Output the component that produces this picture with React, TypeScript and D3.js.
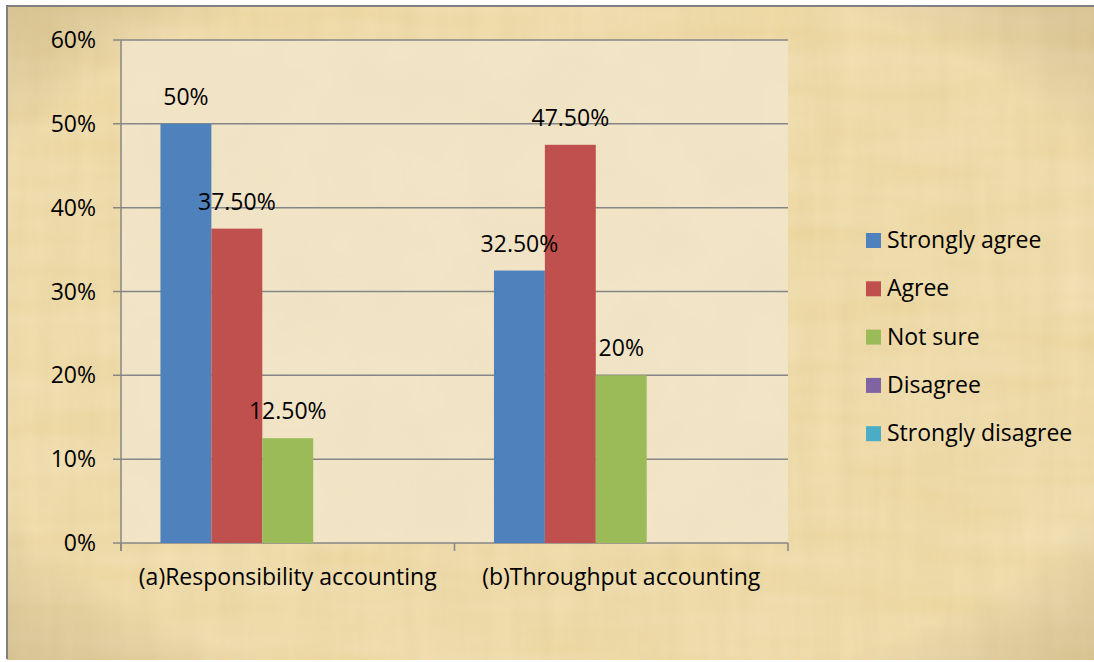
import React, { useEffect, useRef } from "react";
import * as d3 from "d3";

const categories = ["(a)Responsibility accounting", "(b)Throughput accounting"];
const seriesNames = ["Strongly agree", "Agree", "Not sure", "Disagree", "Strongly disagree"];
const seriesColors = ["#4F81BD", "#C0504D", "#9BBB59", "#8064A2", "#4BACC6"];
const stronglyAgree = [50, 32.5];
const agree = [37.5, 47.5];
const notSure = [12.5, 20];
const disagree = [0, 0];
const stronglyDisagree = [0, 0];
const valueLabels = [["50%", "32.50%"], ["37.50%", "47.50%"], ["12.50%", "20%"], [null, null], [null, null]];
const yTicks = [0, 10, 20, 30, 40, 50, 60];

const W = 1094, H = 662;
const plot = { left: 121, right: 788, top: 40, bottom: 543 };
const FONT = "'Open Sans', 'Noto Sans', sans-serif";
const FS = 23;

export default function App() {
  const ref = useRef<SVGSVGElement>(null);
  useEffect(() => {
    const svg = d3.select(ref.current);
    svg.selectAll("*").remove();
    const series = [stronglyAgree, agree, notSure, disagree, stronglyDisagree];

    const defs = svg.append("defs");
    const f1 = defs.append("filter").attr("id", "paper").attr("x", 0).attr("y", 0).attr("width", "100%").attr("height", "100%");
    f1.append("feTurbulence").attr("type", "fractalNoise").attr("baseFrequency", "0.05 0.006").attr("numOctaves", 3).attr("seed", 4).attr("result", "n");
    f1.append("feColorMatrix").attr("in", "n").attr("type", "matrix")
      .attr("values", "0 0 0 0 0.62  0 0 0 0 0.48  0 0 0 0 0.2  0 0 0 0.28 0").attr("result", "c");
    f1.append("feComposite").attr("in", "c").attr("in2", "SourceGraphic").attr("operator", "in");
    const f3 = defs.append("filter").attr("id", "paperh").attr("x", 0).attr("y", 0).attr("width", "100%").attr("height", "100%");
    f3.append("feTurbulence").attr("type", "fractalNoise").attr("baseFrequency", "0.006 0.04").attr("numOctaves", 2).attr("seed", 9).attr("result", "n");
    f3.append("feColorMatrix").attr("in", "n").attr("type", "matrix")
      .attr("values", "0 0 0 0 1  0 0 0 0 0.95  0 0 0 0 0.85  0 0 0 0.3 0").attr("result", "c");
    f3.append("feComposite").attr("in", "c").attr("in2", "SourceGraphic").attr("operator", "in");
    const f2 = defs.append("filter").attr("id", "paper2").attr("x", 0).attr("y", 0).attr("width", "100%").attr("height", "100%");
    f2.append("feTurbulence").attr("type", "fractalNoise").attr("baseFrequency", "0.015").attr("numOctaves", 3).attr("seed", 7).attr("result", "n");
    f2.append("feColorMatrix").attr("in", "n").attr("type", "matrix")
      .attr("values", "0 0 0 0 0.75  0 0 0 0 0.65  0 0 0 0 0.45  0 0 0 0.22 0").attr("result", "c");
    f2.append("feComposite").attr("in", "c").attr("in2", "SourceGraphic").attr("operator", "in");
    const rg = defs.append("radialGradient").attr("id", "vign").attr("cx", "50%").attr("cy", "50%").attr("r", "75%");
    rg.append("stop").attr("offset", "75%").attr("stop-color", "#000").attr("stop-opacity", 0);
    rg.append("stop").attr("offset", "100%").attr("stop-color", "#6a4a10").attr("stop-opacity", 0.18);

    // Background
    svg.append("rect").attr("x", 0).attr("y", 0).attr("width", W).attr("height", H).attr("fill", "#ffffff");
    const bg = () => svg.append("rect").attr("x", 7).attr("y", 6).attr("width", W - 7).attr("height", H - 8);
    bg().attr("fill", "#EFD9A2");
    bg().attr("fill", "#EFD9A2").attr("filter", "url(#paper)");
    bg().attr("fill", "#EFD9A2").attr("filter", "url(#paperh)");
    bg().attr("fill", "url(#vign)");
    svg.append("line").attr("x1", 7).attr("x2", 7).attr("y1", 5).attr("y2", H - 3).attr("stroke", "#808080").attr("stroke-width", 2);
    svg.append("line").attr("x1", 6).attr("x2", W).attr("y1", 6).attr("y2", 6).attr("stroke", "#808080").attr("stroke-width", 2);

    // Plot area
    svg.append("rect").attr("x", plot.left).attr("y", plot.top).attr("width", plot.right - plot.left).attr("height", plot.bottom - plot.top).attr("fill", "#F3E6C8");
    svg.append("rect").attr("x", plot.left).attr("y", plot.top).attr("width", plot.right - plot.left).attr("height", plot.bottom - plot.top).attr("fill", "#F3E6C8").attr("filter", "url(#paper2)");

    const y = d3.scaleLinear().domain([0, 60]).range([plot.bottom, plot.top]);
    const x0 = d3.scaleBand().domain(categories).range([plot.left, plot.right]).paddingInner(0).paddingOuter(0);
    const x1 = d3.scaleBand().domain(seriesNames).range([0, x0.bandwidth()]).paddingOuter(0.775).paddingInner(0);

    // gridlines
    svg.append("g").selectAll("line").data(yTicks).join("line")
      .attr("x1", plot.left - 8).attr("x2", plot.right)
      .attr("y1", d => y(d)).attr("y2", d => y(d))
      .attr("stroke", "#868686").attr("stroke-width", 1.5);
    // y-axis line
    svg.append("line").attr("x1", plot.left).attr("x2", plot.left).attr("y1", plot.top).attr("y2", plot.bottom + 8)
      .attr("stroke", "#868686").attr("stroke-width", 1.5);
    // x tick marks
    const xt = [plot.left, ...categories.map(c => (x0(c) as number) + x0.bandwidth())];
    svg.append("g").selectAll("line").data(xt).join("line")
      .attr("x1", d => d).attr("x2", d => d).attr("y1", plot.bottom).attr("y2", plot.bottom + 8)
      .attr("stroke", "#868686").attr("stroke-width", 1.5);

    // y labels
    svg.append("g").selectAll("text").data(yTicks).join("text")
      .attr("x", 96).attr("y", d => y(d)).attr("dy", "0.35em").attr("text-anchor", "end")
      .attr("font-family", FONT).attr("font-size", FS).attr("fill", "#000")
      .text(d => `${d}%`);

    // bars
    const barLayer = svg.append("g");
    const labelLayer = svg.append("g");
    series.forEach((vals, si) => {
      barLayer.append("g").selectAll("rect").data(vals).join("rect")
        .attr("x", (d, ci) => (x0(categories[ci]) as number) + (x1(seriesNames[si]) as number))
        .attr("y", d => y(d)).attr("width", x1.bandwidth()).attr("height", d => y(0) - y(d))
        .attr("fill", seriesColors[si]);
      labelLayer.append("g").selectAll("text").data(vals).join("text")
        .filter((d, ci) => valueLabels[si][ci] !== null)
        .attr("x", (d, ci) => (x0(categories[ci]) as number) + (x1(seriesNames[si]) as number) + x1.bandwidth() / 2)
        .attr("y", d => y(d) - 19).attr("text-anchor", "middle")
        .attr("font-family", FONT).attr("font-size", FS).attr("fill", "#000")
        .text((d, ci) => valueLabels[si][ci] as string);
    });

    // category labels
    svg.append("g").selectAll("text").data(categories).join("text")
      .attr("x", d => (x0(d) as number) + x0.bandwidth() / 2).attr("y", 585).attr("text-anchor", "middle")
      .attr("font-family", FONT).attr("font-size", FS).attr("fill", "#000")
      .text(d => d);

    // legend
    const lg = svg.append("g").selectAll("g").data(seriesNames).join("g")
      .attr("transform", (d, i) => `translate(866, ${240 + i * 48.3})`);
    lg.append("rect").attr("x", 0).attr("y", -7).attr("width", 15).attr("height", 15).attr("fill", (d, i) => seriesColors[i]);
    lg.append("text").attr("x", 21).attr("y", 0).attr("dy", "0.35em")
      .attr("font-family", FONT).attr("font-size", FS).attr("fill", "#000").text(d => d);
  }, []);
  return (
    <svg ref={ref} width={W} height={H} style={{ position: "absolute", left: 0, top: 0, display: "block" }} />
  );
}
